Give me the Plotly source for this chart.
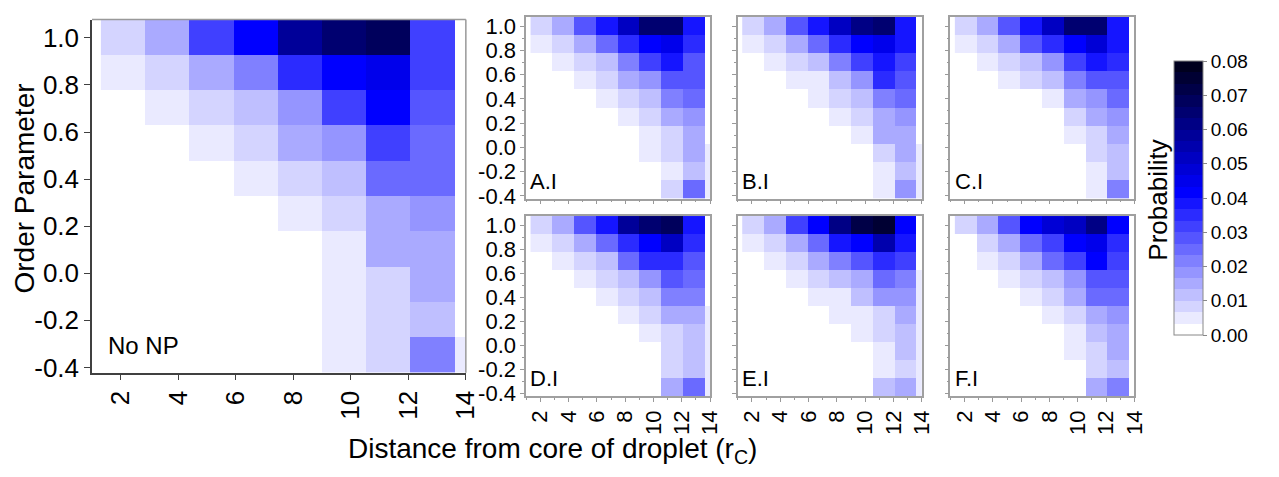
import plotly.graph_objects as go

# ---------------- data ----------------
x_centers = [2.08, 3.62, 5.15, 6.69, 8.23, 9.77, 11.30, 12.84, 14.38]
y_centers = [1.003, 0.853, 0.703, 0.553, 0.403, 0.253, 0.103, -0.047, -0.197, -0.347]  # top -> bottom

x_ticks = [2, 4, 6, 8, 10, 12, 14]
y_ticks = [-0.4, -0.2, 0.0, 0.2, 0.4, 0.6, 0.8, 1.0]
y_ticktext = ["-0.4", "-0.2", "0.0", "0.2", "0.4", "0.6", "0.8", "1.0"]
cbar_ticks = [0.0, 0.01, 0.02, 0.03, 0.04, 0.05, 0.06, 0.07, 0.08]

no_np = [
    [0.008, 0.015, 0.0315, 0.0415, 0.057, 0.065, 0.067, 0.032, 0],
    [0.005, 0.008, 0.015, 0.0215, 0.035, 0.0415, 0.045, 0.032, 0],
    [0, 0.005, 0.008, 0.0115, 0.018, 0.0315, 0.0415, 0.028, 0],
    [0, 0, 0.005, 0.008, 0.015, 0.018, 0.0315, 0.025, 0],
    [0, 0, 0, 0.005, 0.008, 0.0115, 0.0235, 0.0235, 0],
    [0, 0, 0, 0, 0.005, 0.008, 0.015, 0.018, 0],
    [0, 0, 0, 0, 0, 0.005, 0.015, 0.015, 0],
    [0, 0, 0, 0, 0, 0.005, 0.008, 0.015, 0],
    [0, 0, 0, 0, 0, 0.005, 0.008, 0.0115, 0],
    [0, 0, 0, 0, 0, 0.005, 0.008, 0.0215, 0.005],
]
a_i = [
    [0.008, 0.015, 0.028, 0.039, 0.0515, 0.064, 0.066, 0.038, 0],
    [0.005, 0.008, 0.015, 0.025, 0.035, 0.0415, 0.045, 0.035, 0],
    [0, 0.005, 0.008, 0.0115, 0.0215, 0.0315, 0.038, 0.028, 0],
    [0, 0, 0.005, 0.008, 0.015, 0.018, 0.028, 0.028, 0],
    [0, 0, 0, 0.005, 0.008, 0.0115, 0.0215, 0.0235, 0],
    [0, 0, 0, 0, 0.005, 0.008, 0.015, 0.018, 0],
    [0, 0, 0, 0, 0, 0.005, 0.008, 0.015, 0],
    [0, 0, 0, 0, 0, 0.005, 0.008, 0.015, 0.004],
    [0, 0, 0, 0, 0, 0, 0.005, 0.0115, 0.004],
    [0, 0, 0, 0, 0, 0, 0.008, 0.025, 0.004],
]
b_i = [
    [0.008, 0.015, 0.028, 0.039, 0.05, 0.061, 0.066, 0.039, 0],
    [0.005, 0.008, 0.015, 0.025, 0.035, 0.0415, 0.045, 0.038, 0],
    [0, 0.005, 0.008, 0.012, 0.0215, 0.0315, 0.038, 0.0315, 0],
    [0, 0, 0.005, 0.005, 0.0115, 0.018, 0.035, 0.028, 0],
    [0, 0, 0, 0.005, 0.008, 0.0115, 0.0215, 0.0235, 0],
    [0, 0, 0, 0, 0.005, 0.008, 0.015, 0.018, 0],
    [0, 0, 0, 0, 0, 0.005, 0.015, 0.015, 0],
    [0, 0, 0, 0, 0, 0, 0.008, 0.015, 0.004],
    [0, 0, 0, 0, 0, 0, 0.005, 0.0115, 0.004],
    [0, 0, 0, 0, 0, 0, 0.005, 0.018, 0.004],
]
c_i = [
    [0.008, 0.015, 0.028, 0.039, 0.0515, 0.064, 0.066, 0.039, 0],
    [0.005, 0.008, 0.015, 0.028, 0.035, 0.0415, 0.048, 0.039, 0],
    [0, 0.005, 0.008, 0.0115, 0.018, 0.0315, 0.038, 0.035, 0],
    [0, 0, 0.005, 0.008, 0.0115, 0.0215, 0.028, 0.028, 0],
    [0, 0, 0, 0, 0.005, 0.015, 0.018, 0.025, 0],
    [0, 0, 0, 0, 0, 0.008, 0.015, 0.018, 0],
    [0, 0, 0, 0, 0, 0.005, 0.008, 0.015, 0],
    [0, 0, 0, 0, 0, 0, 0.008, 0.0115, 0],
    [0, 0, 0, 0, 0, 0, 0.005, 0.0115, 0],
    [0, 0, 0, 0, 0, 0, 0.005, 0.0215, 0],
]
d_i = [
    [0.008, 0.015, 0.028, 0.039, 0.058, 0.064, 0.068, 0.039, 0],
    [0.005, 0.008, 0.015, 0.0235, 0.035, 0.0415, 0.0515, 0.035, 0],
    [0, 0.005, 0.008, 0.0115, 0.025, 0.035, 0.035, 0.028, 0],
    [0, 0, 0.005, 0.008, 0.0115, 0.018, 0.028, 0.025, 0],
    [0, 0, 0, 0.005, 0.008, 0.0115, 0.0215, 0.0215, 0],
    [0, 0, 0, 0, 0.005, 0.008, 0.015, 0.015, 0.004],
    [0, 0, 0, 0, 0, 0.005, 0.008, 0.0115, 0.004],
    [0, 0, 0, 0, 0, 0, 0.008, 0.0115, 0.004],
    [0, 0, 0, 0, 0, 0, 0.008, 0.0115, 0.004],
    [0, 0, 0, 0, 0, 0, 0.015, 0.0235, 0.004],
]
e_i = [
    [0.008, 0.015, 0.0315, 0.0415, 0.06, 0.073, 0.075, 0.0415, 0],
    [0.005, 0.008, 0.015, 0.025, 0.038, 0.0415, 0.055, 0.038, 0],
    [0, 0.005, 0.008, 0.015, 0.0215, 0.028, 0.035, 0.0315, 0],
    [0, 0, 0.005, 0.008, 0.0115, 0.015, 0.025, 0.0215, 0.004],
    [0, 0, 0, 0.005, 0.005, 0.0115, 0.018, 0.018, 0.004],
    [0, 0, 0, 0, 0.005, 0.005, 0.008, 0.015, 0.004],
    [0, 0, 0, 0, 0, 0.005, 0.008, 0.0115, 0.004],
    [0, 0, 0, 0, 0, 0, 0.005, 0.0115, 0.004],
    [0, 0, 0, 0, 0, 0, 0.005, 0.008, 0.004],
    [0, 0, 0, 0, 0, 0, 0.0115, 0.015, 0.004],
]
f_i = [
    [0.008, 0.015, 0.028, 0.0415, 0.048, 0.053, 0.06, 0.0415, 0],
    [0, 0.008, 0.015, 0.025, 0.0315, 0.0415, 0.045, 0.035, 0],
    [0, 0.005, 0.008, 0.015, 0.0235, 0.0315, 0.0415, 0.0315, 0],
    [0, 0, 0.005, 0.008, 0.0115, 0.018, 0.028, 0.028, 0],
    [0, 0, 0, 0.005, 0.008, 0.015, 0.025, 0.025, 0],
    [0, 0, 0, 0, 0.005, 0.008, 0.015, 0.018, 0],
    [0, 0, 0, 0, 0, 0.005, 0.0115, 0.015, 0],
    [0, 0, 0, 0, 0, 0.005, 0.008, 0.015, 0],
    [0, 0, 0, 0, 0, 0, 0.008, 0.0115, 0],
    [0, 0, 0, 0, 0, 0, 0.015, 0.0215, 0],
]

panel_names = ["No NP", "A.I", "B.I", "C.I", "D.I", "E.I", "F.I"]
panel_data = [no_np, a_i, b_i, c_i, d_i, e_i, f_i]

# ---------------- colour scale (stepped) ----------------
ZMAX = 0.08
NB = 24


def cmap(v):
    if v <= 0.04:
        t = v / 0.04
        c = round(255 * (1 - t))
        return f"rgb({c},{c},255)"
    t = (v - 0.04) / 0.04
    return f"rgb(0,0,{round(255 - 245 * t)})"


colorscale = []
for k in range(NB):
    col = cmap(k * ZMAX / NB)
    colorscale.append([k / NB, col])
    colorscale.append([(k + 1) / NB, col])

# ---------------- layout geometry (pixels) ----------------
W, H = 1279, 477
FONT = "Liberation Sans, Arial, sans-serif"


def xd(a, b):
    return [a / W, b / W]


def yd(top, bottom):
    return [1 - bottom / H, 1 - top / H]


geo = [
    (xd(93, 471), yd(17, 380)),
    (xd(532, 718), yd(14, 201)),
    (xd(746, 932), yd(14, 201)),
    (xd(961, 1147), yd(14, 201)),
    (xd(532, 718), yd(219, 404)),
    (xd(746, 932), yd(219, 404)),
    (xd(961, 1147), yd(219, 404)),
]
show_xlab = [True, False, False, False, True, True, True]
show_ylab = [True, True, False, False, True, False, False]

fig = go.Figure()
y_rev = y_centers[::-1]
for i, (name, data) in enumerate(zip(panel_names, panel_data)):
    n = "" if i == 0 else str(i + 1)
    fig.add_trace(go.Heatmap(
        x=x_centers, y=y_rev, z=data[::-1], coloraxis="coloraxis",
        xaxis="x" + n, yaxis="y" + n, hoverinfo="skip"))

layout = dict(
    width=W, height=H, margin=dict(l=0, r=0, t=0, b=0),
    paper_bgcolor="white", plot_bgcolor="white",
    font=dict(family=FONT, color="black"),
    showlegend=False,
    coloraxis=dict(
        colorscale=colorscale, cmin=0, cmax=ZMAX,
        colorbar=dict(
            x=1187 / W, xanchor="left", xpad=0, ypad=0,
            y=1 - 200.5 / H, yanchor="middle",
            thickness=29, thicknessmode="pixels",
            len=274, lenmode="pixels",
            tickvals=cbar_ticks, tickformat=".2f",
            ticks="outside", ticklen=4, tickcolor="#888",
            outlinecolor="#888", outlinewidth=1,
            tickfont=dict(size=19, family=FONT, color="black"),
        ),
    ),
)

shapes = []
annotations = []
for i in range(7):
    n = "" if i == 0 else str(i + 1)
    main = i == 0
    xdom, ydom = geo[i]
    lab_size = 26 if main else 22
    xa = dict(
        domain=xdom, anchor="y" + n, range=[1, 14],
        tickvals=x_ticks, tickangle=-90, showticklabels=show_xlab[i],
        ticks="outside", ticklen=6 if main else 4,
        tickcolor="#404040" if main else "#999",
        tickfont=dict(size=lab_size, family=FONT, color="black"),
        showgrid=False, zeroline=False, showline=True,
        linecolor="#404040" if main else "#a0a0a0", linewidth=1.5,
        mirror=False if main else True, fixedrange=True,
    )
    ya = dict(
        domain=ydom, anchor="x" + n, range=[-0.422, 1.078],
        tickvals=y_ticks, ticktext=y_ticktext, showticklabels=show_ylab[i],
        ticks="outside", ticklen=6 if main else 4,
        tickcolor="#404040" if main else "#999",
        tickfont=dict(size=lab_size, family=FONT, color="black"),
        showgrid=False, zeroline=False, showline=True,
        linecolor="#404040" if main else "#a0a0a0", linewidth=1.5,
        mirror=False if main else True, fixedrange=True,
    )
    if not main:
        xa["minor"] = dict(dtick=1, ticks="outside", ticklen=2, tickcolor="#999")
        ya["minor"] = dict(dtick=0.1, ticks="outside", ticklen=2, tickcolor="#999")
    layout["xaxis" + n] = xa
    layout["yaxis" + n] = ya
    if main:
        shapes.append(dict(type="line", xref="x domain", yref="y domain",
                           x0=0, x1=1, y0=1, y1=1,
                           line=dict(color="#999", width=1.5)))
        shapes.append(dict(type="line", xref="x domain", yref="y domain",
                           x0=1, x1=1, y0=0, y1=1,
                           line=dict(color="#999", width=1.5)))
        annotations.append(dict(
            text=panel_names[i], xref="x domain", yref="y domain",
            x=0.037, y=0.077, xanchor="left", yanchor="middle",
            showarrow=False, font=dict(size=24, family=FONT, color="black")))
    else:
        annotations.append(dict(
            text=panel_names[i], xref="x" + n + " domain", yref="y" + n + " domain",
            x=0.012, y=0.095, xanchor="left", yanchor="middle",
            showarrow=False, font=dict(size=22, family=FONT, color="black")))

annotations.append(dict(
    text="Order Parameter", xref="paper", yref="paper",
    x=25 / W, y=1 - 191 / H, xanchor="center", yanchor="middle",
    textangle=-90, showarrow=False,
    font=dict(size=28, family=FONT, color="black")))
annotations.append(dict(
    text="Distance from core of droplet (r<sub>C</sub>)", xref="paper", yref="paper",
    x=559 / W, y=1 - 460 / H, xanchor="center", yanchor="middle",
    showarrow=False, font=dict(size=28, family=FONT, color="black")))
annotations.append(dict(
    text="Probability", xref="paper", yref="paper",
    x=1171 / W, y=1 - 203 / H, xanchor="center", yanchor="middle",
    textangle=-90, showarrow=False,
    font=dict(size=26, family=FONT, color="black")))

layout["shapes"] = shapes
layout["annotations"] = annotations
fig.update_layout(**layout)
fig.write_html("out.html")
